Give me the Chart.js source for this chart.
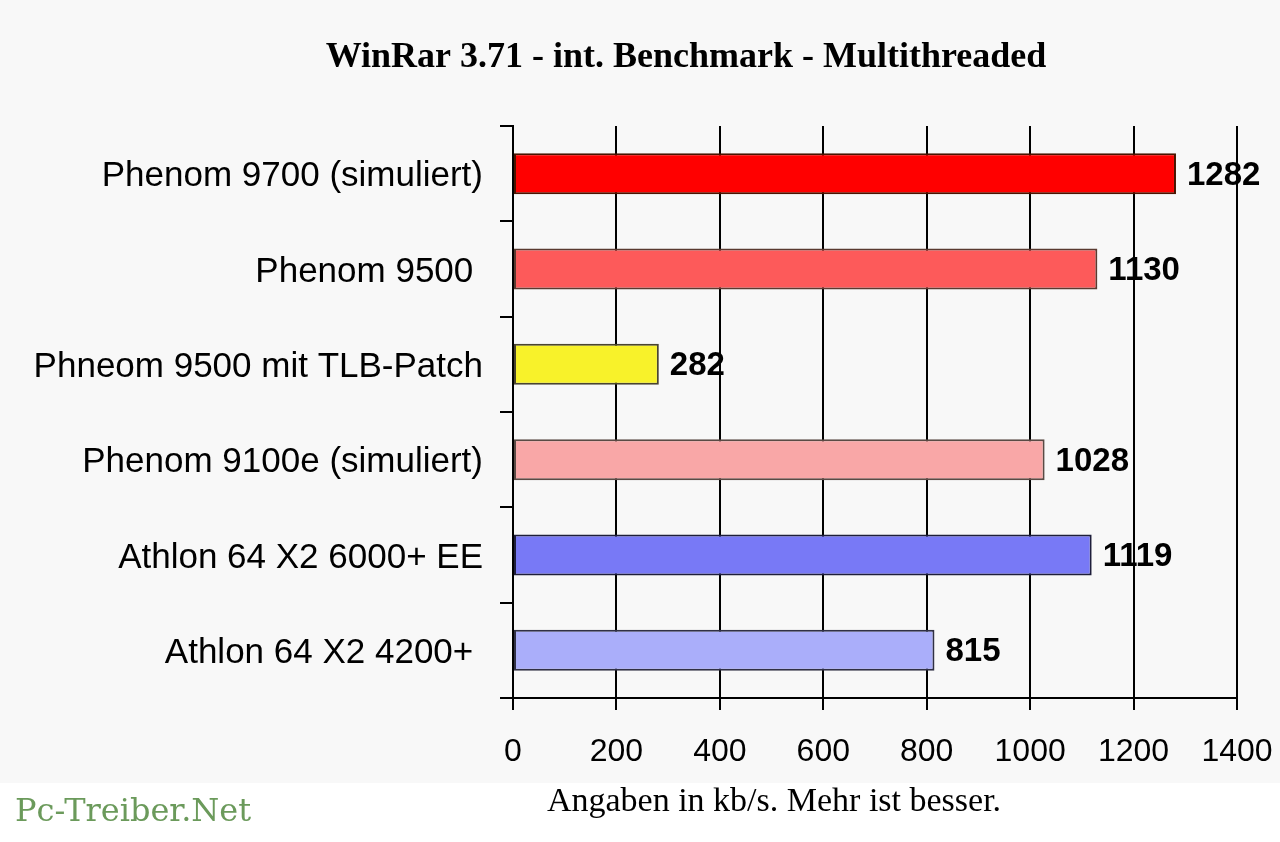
<!DOCTYPE html>
<html>
<head>
<meta charset="utf-8">
<script src="https://cdn.jsdelivr.net/npm/chart.js@4/dist/chart.umd.min.js"></script>
<style>
  html, body { margin: 0; padding: 0; background: #ffffff; }
  canvas { display: block; }
</style>
</head>
<body>
<canvas id="winrarChart" width="1280" height="842"></canvas>
<script>
const categories = [
  "Phenom 9700 (simuliert)",
  "Phenom 9500 ",
  "Phneom 9500 mit TLB-Patch",
  "Phenom 9100e (simuliert)",
  "Athlon 64 X2 6000+ EE",
  "Athlon 64 X2 4200+ "
];
const values = [1282, 1130, 282, 1028, 1119, 815];
const xTicks = [0, 200, 400, 600, 800, 1000, 1200, 1400];
const barColors = ["#ff0000", "#fd5a5a", "#f8f22a", "#f9a7a7", "#7879f6", "#aaaefa"];
const barBorders = ["#4a1400", "#5a3a30", "#4a4430", "#5a4a44", "#1e1e3a", "#303044"];

const chartTitle = "WinRar 3.71 - int. Benchmark - Multithreaded";
const axisCaption = "Angaben in kb/s. Mehr ist besser.";
const watermark = "Pc-Treiber.Net";

const ctx = document.getElementById("winrarChart");

// background + fixed texts
const decor = {
  id: "decor",
  beforeDraw(chart) {
    const c = chart.ctx;
    c.save();
    c.fillStyle = "#f8f8f8";
    c.fillRect(0, 0, chart.width, 783);
    c.fillStyle = "#ffffff";
    c.fillRect(0, 783, chart.width, chart.height - 783);
    c.restore();
  },
  afterDraw(chart) {
    const c = chart.ctx;
    c.save();
    c.fillStyle = "#000000";
    c.textAlign = "center";
    c.textBaseline = "alphabetic";
    c.font = "bold 36px 'Liberation Serif'";
    c.fillText(chartTitle, 686, 67);
    c.font = "34px 'Liberation Serif'";
    c.fillText(axisCaption, 774, 811);
    c.textAlign = "left";
    c.fillStyle = "#6b9a5b";
    c.font = "32px 'DejaVu Serif'";
    c.fillText(watermark, 15, 821);
    c.restore();
  }
};

// value labels right of the bars
const valueLabels = {
  id: "valueLabels",
  afterDatasetsDraw(chart) {
    const c = chart.ctx;
    const meta = chart.getDatasetMeta(0);
    c.save();
    c.fillStyle = "#000000";
    c.font = "bold 33px 'Liberation Sans'";
    c.textAlign = "left";
    c.textBaseline = "middle";
    meta.data.forEach((bar, i) => {
      c.fillText(String(values[i]), bar.x + 11, bar.y + 2);
    });
    c.restore();
  }
};

new Chart(ctx, {
  type: "bar",
  data: {
    labels: categories,
    datasets: [
      {
        data: values,
        backgroundColor: barColors,
        borderColor: barBorders,
        borderWidth: 2,
        borderSkipped: false,
        barPercentage: 0.43,
        categoryPercentage: 1,
      },
    ],
  },
  options: {
    indexAxis: "y",
    responsive: false,
    devicePixelRatio: 1,
    animation: false,
    layout: { padding: { top: 126, right: 43, left: 0, bottom: 0 } },
    plugins: {
      legend: { display: false },
      title: { display: false },
      tooltip: { enabled: false },
    },
    scales: {
      x: {
        min: xTicks[0],
        max: xTicks[xTicks.length - 1],
        afterBuildTicks(scale) {
          scale.ticks = xTicks.map((v) => ({ value: v }));
        },
        afterFit(scale) {
          scale.height = 144;
          scale.paddingRight = 0;
        },
        grid: {
          color: "#000000",
          lineWidth: 2,
          tickLength: 12,
          tickColor: "#000000",
        },
        border: { display: true, color: "#000000", width: 2 },
        ticks: {
          color: "#000000",
          font: { family: "'Liberation Sans'", size: 32 },
          padding: 23,
          maxRotation: 0,
          callback: (v) => String(v),
        },
      },
      y: {
        offset: true,
        afterFit(scale) {
          scale.width = 513;
        },
        grid: {
          offset: true,
          drawOnChartArea: false,
          drawTicks: true,
          tickLength: 13,
          color: "#000000",
          lineWidth: 2,
        },
        border: { display: true, color: "#000000", width: 2 },
        ticks: {
          color: "#000000",
          font: { family: "'Liberation Sans'", size: 35 },
          padding: 17,
          labelOffset: 3,
        },
      },
    },
  },
  plugins: [decor, valueLabels],
});
</script>
</body>
</html>
